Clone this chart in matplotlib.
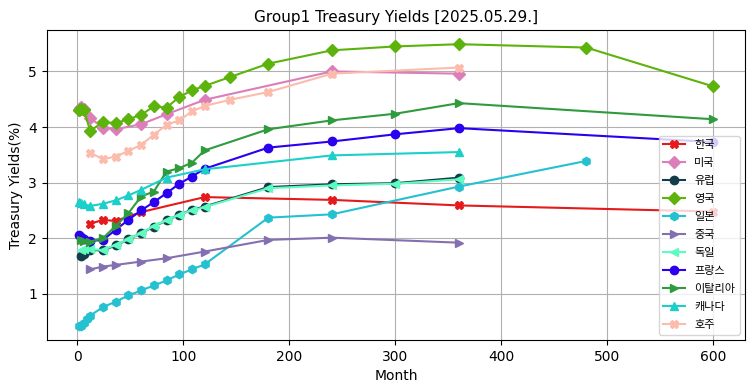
import matplotlib
matplotlib.use('Agg')
import matplotlib.pyplot as plt

plt.rcParams['font.family'] = ['DejaVu Sans', 'Noto Sans CJK KR']

# data (months, yield %)
kr_m = [12, 24, 36, 60, 120, 240, 360, 600]
kr_y = [2.26, 2.33, 2.31, 2.47, 2.74, 2.69, 2.59, 2.48]

us_m = [1, 2, 3, 6, 12, 24, 36, 60, 84, 120, 240, 360]
us_y = [4.31, 4.34, 4.36, 4.32, 4.16, 3.99, 3.96, 4.05, 4.23, 4.49, 5.00, 4.96]

eu_m = [3, 6, 12, 24, 36, 48, 60, 72, 84, 96, 108, 120, 180, 240, 300, 360]
eu_y = [1.68, 1.72, 1.79, 1.78, 1.87, 1.98, 2.09, 2.21, 2.32, 2.42, 2.51, 2.57, 2.92, 2.97, 2.99, 3.09]

uk_m = [1, 3, 6, 12, 24, 36, 48, 60, 72, 84, 96, 108, 120, 144, 180, 240, 300, 360, 480, 600]
uk_y = [4.30, 4.33, 4.31, 3.93, 4.09, 4.07, 4.14, 4.22, 4.37, 4.35, 4.54, 4.66, 4.74, 4.90, 5.14, 5.38, 5.45, 5.49, 5.43, 4.73]

jp_m = [1, 3, 6, 9, 12, 24, 36, 48, 60, 72, 84, 96, 108, 120, 180, 240, 360, 480]
jp_y = [0.42, 0.43, 0.48, 0.54, 0.61, 0.76, 0.86, 0.97, 1.06, 1.15, 1.24, 1.35, 1.44, 1.53, 2.37, 2.43, 2.93, 3.39]

cn_m = [12, 24, 36, 60, 84, 120, 180, 240, 360]
cn_y = [1.44, 1.49, 1.52, 1.58, 1.64, 1.76, 1.97, 2.01, 1.92]

de_m = [3, 6, 12, 24, 36, 48, 60, 72, 84, 96, 108, 120, 180, 240, 300, 360]
de_y = [1.78, 1.80, 1.80, 1.79, 1.88, 1.98, 2.09, 2.22, 2.32, 2.42, 2.50, 2.56, 2.90, 2.95, 2.98, 3.06]

fr_m = [1, 3, 6, 12, 24, 36, 48, 60, 72, 84, 96, 108, 120, 180, 240, 300, 360, 600]
fr_y = [2.05, 2.03, 1.98, 1.95, 1.97, 2.15, 2.33, 2.50, 2.65, 2.81, 2.98, 3.11, 3.25, 3.63, 3.74, 3.87, 3.98, 3.73]

it_m = [3, 6, 12, 24, 36, 48, 60, 72, 84, 96, 108, 120, 180, 240, 300, 360, 600]
it_y = [1.97, 1.95, 1.94, 2.00, 2.22, 2.45, 2.75, 2.84, 3.20, 3.26, 3.36, 3.58, 3.96, 4.12, 4.24, 4.43, 4.14]

ca_m = [1, 3, 6, 12, 24, 36, 48, 60, 84, 120, 240, 360]
ca_y = [2.66, 2.63, 2.61, 2.58, 2.62, 2.68, 2.77, 2.87, 3.09, 3.24, 3.49, 3.55]

au_m = [12, 24, 36, 48, 60, 72, 84, 96, 108, 120, 144, 180, 240, 360]
au_y = [3.54, 3.42, 3.47, 3.57, 3.68, 3.86, 4.04, 4.12, 4.28, 4.38, 4.49, 4.63, 4.96, 5.07]

series = [
    ('한국', kr_m, kr_y, '#e41a1c', 'X'),
    ('미국', us_m, us_y, '#dc7eb9', 'D'),
    ('유럽', eu_m, eu_y, '#143c4a', 'o'),
    ('영국', uk_m, uk_y, '#5cb30c', 'D'),
    ('일본', jp_m, jp_y, '#25c1d0', 'h'),
    ('중국', cn_m, cn_y, '#8470b0', '>'),
    ('독일', de_m, de_y, '#5dfcc0', '<'),
    ('프랑스', fr_m, fr_y, '#2a00ee', 'o'),
    ('이탈리아', it_m, it_y, '#2f9b3d', '>'),
    ('캐나다', ca_m, ca_y, '#1ccfc9', '^'),
    ('호주', au_m, au_y, '#fbbcae', 'X'),
]

fig, ax = plt.subplots(figsize=(7.55, 3.91), dpi=100)
fig.subplots_adjust(left=0.062, right=0.987, top=0.923, bottom=0.13)

for name, m, y, c, mk in series:
    ax.plot(m, y, color=c, marker=mk, markersize=6, linewidth=1.5, label=name)

ax.grid(True, color='#b0b0b0')
ax.set_title('Group1 Treasury Yields [2025.05.29.]', fontsize=11)
ax.set_xlabel('Month')
ax.set_ylabel('Treasury Yields(%)')
ax.legend(loc='lower right', fontsize=8, labelspacing=0.72)

fig.savefig('out.png', dpi=100)
